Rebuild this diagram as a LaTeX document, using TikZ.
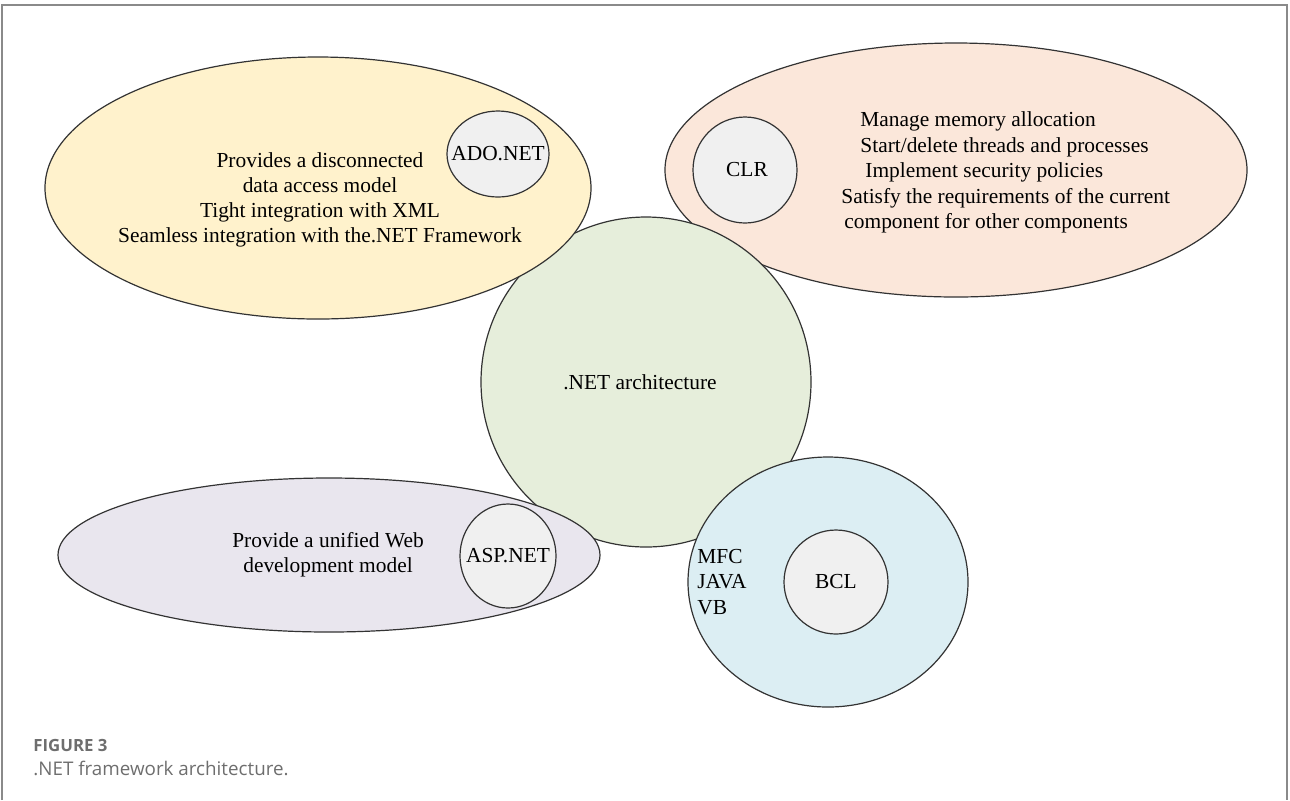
\documentclass[tikz,border=0pt]{standalone}
\usepackage{fontspec}
\setmainfont{Liberation Serif}
\newfontfamily\capfont{Open Sans}
\usetikzlibrary{shapes.geometric}
\definecolor{adofill}{HTML}{FFF2CC}
\definecolor{clrfill}{HTML}{FBE7DA}
\definecolor{netfill}{HTML}{E6EEDB}
\definecolor{aspfill}{HTML}{E9E6EE}
\definecolor{bclfill}{HTML}{DCEEF3}
\definecolor{innerfill}{HTML}{F0F0F0}
\definecolor{edge}{HTML}{333333}
\definecolor{framecol}{HTML}{8A8A8A}
\definecolor{capgray}{HTML}{6E6E6E}
\tikzset{
  x=0.5pt, y=-0.5pt,
  blob/.style={ellipse, draw=edge, line width=0.6pt, inner sep=0pt, outer sep=0pt},
  lbl/.style={font=\fontsize{10.7pt}{12.6pt}\selectfont, inner sep=0pt, text=black},
  captext/.style={font=\capfont\fontsize{9.4pt}{11pt}\selectfont, text=capgray, inner sep=0pt, anchor=base west}
}
\begin{document}
\begin{tikzpicture}
\useasboundingbox (0,0) rectangle (1290,800);
% frame
\draw[framecol, line width=0.8pt] (2,800) -- (2,5) -- (1287,5) -- (1287,800);

% CLR (behind the centre circle)
\node[blob, fill=clrfill, minimum width=291pt, minimum height=127pt] (clr) at (956,170) {};
\node[blob, fill=innerfill, minimum width=52pt, minimum height=53pt] (clrc) at (745,170) {};
\node[lbl] (clrt) at (747,170) {CLR};
\node[lbl, anchor=base west] (c1) at (860,126) {Manage memory allocation};
\node[lbl, anchor=base west] (c2) at (860,152) {Start/delete threads and processes};
\node[lbl, anchor=base west] (c3) at (865,177) {Implement security policies};
\node[lbl, anchor=base west] (c4) at (841,203) {Satisfy the requirements of the current};
\node[lbl, anchor=base west] (c5) at (844,228) {component for other components};

% centre
\node[blob, fill=netfill, minimum width=165pt, minimum height=165pt] (net) at (646,382) {};
\node[lbl] (nett) at (640,382) {.NET architecture};

% ADO.NET
\node[blob, fill=adofill, minimum width=273pt, minimum height=131pt] (ado) at (318,188) {};
\node[blob, fill=innerfill, minimum width=51pt, minimum height=43pt] (adoc) at (498,154) {};
\node[lbl] (adot) at (adoc) {ADO.NET};
\node[lbl, align=center] (adotxt) at (320,200) {Provides a disconnected\\data access model\\Tight integration with XML\\Seamless integration with the.NET Framework};

% ASP.NET
\node[blob, fill=aspfill, minimum width=271pt, minimum height=77pt] (asp) at (329,555) {};
\node[blob, fill=innerfill, minimum width=48pt, minimum height=52pt] (aspc) at (508,556) {};
\node[lbl] (aspt) at (aspc) {ASP.NET};
\node[lbl, align=center] (asptxt) at (328,555) {Provide a unified Web\\development model};

% BCL
\node[blob, fill=bclfill, minimum width=140pt, minimum height=125pt] (bcl) at (828,582) {};
\node[blob, fill=innerfill, minimum width=52pt, minimum height=52pt] (bclc) at (836,582) {};
\node[lbl] (bclt) at (bclc) {BCL};
\node[lbl, align=left, anchor=west] (langs) at (697,582) {MFC\\JAVA\\VB};

% caption
\node[captext, font=\capfont\bfseries\fontsize{8.4pt}{10pt}\selectfont] (fig) at (33,751) {FIGURE 3};
\node[captext] (captxt) at (33,775) {.NET framework architecture.};
\end{tikzpicture}
\end{document}
